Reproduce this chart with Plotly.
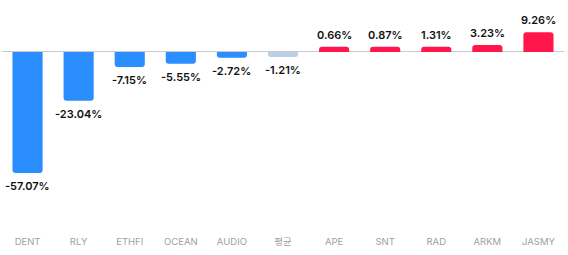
import plotly.graph_objects as go

categories = ["DENT", "RLY", "ETHFI", "OCEAN", "AUDIO", "평균", "APE", "SNT", "RAD", "ARKM", "JASMY"]
values = [-57.07, -23.04, -7.15, -5.55, -2.72, -1.21, 0.66, 0.87, 1.31, 3.23, 9.26]
average_label = "평균"

BLUE = "#2b8eff"
RED = "#ff164b"
AVG = "#bcd0e3"
MIN_VISIBLE = 2.4  # minimum drawn bar length (in %) so tiny bars stay visible
FONT = "Inter, Noto Sans CJK KR"

colors = [AVG if c == average_label else (BLUE if v < 0 else RED) for c, v in zip(categories, values)]
display = [(1 if v >= 0 else -1) * max(abs(v), MIN_VISIBLE) for v in values]
labels = [f"{v:.2f}%" for v in values]

fig = go.Figure(go.Bar(
    x=categories, y=display,
    marker=dict(color=colors, cornerradius=3, line=dict(width=0)),
    hoverinfo="skip",
))

for c, d, t in zip(categories, display, labels):
    pos = d >= 0
    fig.add_annotation(
        x=c, y=d, text=t, showarrow=False,
        yanchor="bottom" if pos else "top",
        yshift=3 if pos else -4,
        font=dict(family=FONT, size=11, color="#111111", weight=600),
    )

fig.update_layout(
    width=568, height=255,
    margin=dict(l=2, r=4, t=10, b=21),
    paper_bgcolor="white", plot_bgcolor="white",
    bargap=0.41, showlegend=False,
    xaxis=dict(showgrid=False, showline=False, ticks="", ticklen=0,
               tickfont=dict(family=FONT, size=9.5, color="#a0a0a0")),
    yaxis=dict(range=[-85.9, 19.8], showgrid=False, showticklabels=False, ticks="",
               zeroline=True, zerolinecolor="#cccccc", zerolinewidth=1, showline=False),
)

fig.write_html("out.html")
